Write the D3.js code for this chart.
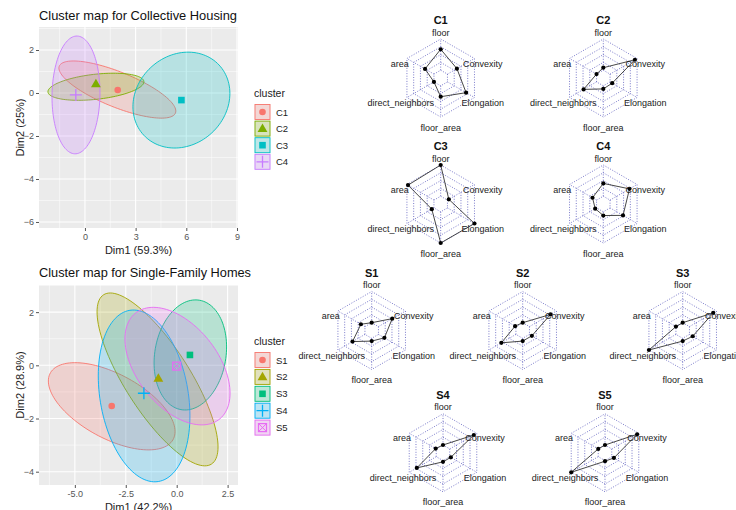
<!DOCTYPE html>
<html><head><meta charset="utf-8">
<script src="https://cdn.jsdelivr.net/npm/d3@7"></script>
<style>body{margin:0;background:#fff} text{font-family:"Liberation Sans",Arial,sans-serif}</style>
</head><body><svg id="chart" width="736" height="510"></svg>
<script>
// ---------------- data ----------------
const housingTitle = "Cluster map for Collective Housing";
const housingClusters = ["C1","C2","C3","C4"];
const housingColors = ["#F8766D","#7CAE00","#00BFC4","#C77CFF"];
const housingShapes = ["circle","triangle","square","plus"];
const housingCenterX = [1.94, 0.65, 5.71, -0.54];
const housingCenterY = [0.14, 0.42, -0.33, -0.09];
// ellipse: [centre x, centre y, half-width, half-height, y offset of right-most point]
const housingEllipses = [[1.92,0.16,3.46,1.33,-1.0],[0.65,0.29,2.84,0.63,0.23],[5.71,-0.33,2.87,2.23,0.31],[-0.53,-0.09,1.42,2.74,0.1]];
const housingXTicks = [0,3,6,9];
const housingXTickLabels = ["0","3","6","9"];
const housingYTicks = [-6,-4,-2,0,2];
const housingXLabel = "Dim1 (59.3%)";
const housingYLabel = "Dim2 (25%)";

const homesTitle = "Cluster map for Single-Family Homes";
const homesClusters = ["S1","S2","S3","S4","S5"];
const homesColors = ["#F8766D","#A3A500","#00BF7D","#00B0F6","#E76BF3"];
const homesShapes = ["circle","triangle","square","plus","boxcross"];
const homesCenterX = [-3.19, -0.90, 0.65, -1.61, 0.0];
const homesCenterY = [-1.53, -0.49, 0.39, -1.05, -0.03];
const homesEllipses = [[-3.19,-1.54,3.11,1.64,-0.95],[-0.94,-0.53,2.97,3.25,-2.54],[0.67,0.39,1.78,2.07,0.3],[-1.60,-1.15,2.25,3.23,-0.75],[0.04,-0.03,2.58,2.21,-1.02]];
const homesXTicks = [-5,-2.5,0,2.5];
const homesXTickLabels = ["-5.0","-2.5","0.0","2.5"];
const homesYTicks = [-4,-2,0,2];
const homesXLabel = "Dim1 (42.2%)";
const homesYLabel = "Dim2 (28.9%)";

const legendTitle = "cluster";

const radarAxes = ["floor","Convexity","Elongation","floor_area","direct_neighbors","area"];
const radarNames = ["C1","C2","C3","C4","S1","S2","S3","S4","S5"];
const radarC1 = [0.67,0.35,0.69,0.35,0.00,0.33];
const radarC2 = [0.08,0.92,0.08,0.10,0.48,0.00];
const radarC3 = [1.00,0.05,1.00,1.00,0.08,0.96];
const radarC4 = [0.41,0.72,0.48,0.12,0.05,0.15];
const radarS1 = [0.00,0.51,0.22,0.09,0.46,0.15];
const radarS2 = [0.00,0.78,0.09,0.09,0.54,0.03];
const radarS3 = [0.00,0.88,0.12,0.09,1.00,0.00];
const radarS4 = [0.00,0.89,0.04,0.04,0.72,0.02];
const radarS5 = [0.00,0.94,0.08,0.02,1.00,0.00];
const radarValues = [radarC1,radarC2,radarC3,radarC4,radarS1,radarS2,radarS3,radarS4,radarS5];

// ---------------- layout ----------------
const svg = d3.select("#chart");
svg.append("rect").attr("width",736).attr("height",510).attr("fill","#fff");

function drawShape(g, shape, x, y, color){
  if(shape==="circle"){
    g.append("circle").attr("cx",x).attr("cy",y).attr("r",3.3).attr("fill",color);
  } else if(shape==="triangle"){
    g.append("path").attr("d",d3.symbol(d3.symbolTriangle,42)()).attr("transform",`translate(${x},${y+0.5})`).attr("fill",color);
  } else if(shape==="square"){
    g.append("rect").attr("x",x-3.3).attr("y",y-3.3).attr("width",6.6).attr("height",6.6).attr("fill",color);
  } else if(shape==="plus"){
    g.append("path").attr("d",`M${x-6},${y}H${x+6}M${x},${y-6}V${y+6}`).attr("stroke",color).attr("stroke-width",1.3).attr("fill","none");
  } else if(shape==="boxcross"){
    g.append("rect").attr("x",x-4).attr("y",y-4).attr("width",8).attr("height",8).attr("fill","none").attr("stroke",color).attr("stroke-width",1.2);
    g.append("path").attr("d",`M${x-4},${y-4}L${x+4},${y+4}M${x+4},${y-4}L${x-4},${y+4}`).attr("stroke",color).attr("stroke-width",1);
  }
}

function clusterPanel(cfg){
  const g = svg.append("g");
  const x = d3.scaleLinear().domain(cfg.xDomain).range([cfg.left, cfg.right]);
  const y = d3.scaleLinear().domain(cfg.yDomain).range([cfg.bottom, cfg.top]);
  g.append("text").attr("x",cfg.left).attr("y",cfg.titleY).attr("font-size",13.5).attr("fill","#111")
    .attr("textLength",cfg.titleW).attr("lengthAdjust","spacingAndGlyphs").text(cfg.title);
  g.append("rect").attr("x",cfg.left).attr("y",cfg.top).attr("width",cfg.right-cfg.left).attr("height",cfg.bottom-cfg.top).attr("fill","#EBEBEB");
  // minor grid
  const xs = cfg.xTicks, ys = cfg.yTicks;
  const dx = xs[1]-xs[0], dy = ys[1]-ys[0];
  const xMinor = d3.range(xs[0]-dx/2, cfg.xDomain[1], dx).filter(v=>v>cfg.xDomain[0]&&v<cfg.xDomain[1]);
  const yMinor = d3.range(ys[0]-dy/2, cfg.yDomain[1], dy).filter(v=>v>cfg.yDomain[0]&&v<cfg.yDomain[1]);
  g.selectAll(".xm").data(xMinor).join("line").attr("x1",d=>x(d)).attr("x2",d=>x(d)).attr("y1",cfg.top).attr("y2",cfg.bottom).attr("stroke","#fff").attr("stroke-width",0.5);
  g.selectAll(".ym").data(yMinor).join("line").attr("y1",d=>y(d)).attr("y2",d=>y(d)).attr("x1",cfg.left).attr("x2",cfg.right).attr("stroke","#fff").attr("stroke-width",0.5);
  g.selectAll(".xM").data(xs).join("line").attr("x1",d=>x(d)).attr("x2",d=>x(d)).attr("y1",cfg.top).attr("y2",cfg.bottom).attr("stroke","#fff").attr("stroke-width",1.1);
  g.selectAll(".yM").data(ys).join("line").attr("y1",d=>y(d)).attr("y2",d=>y(d)).attr("x1",cfg.left).attr("x2",cfg.right).attr("stroke","#fff").attr("stroke-width",1.1);
  // axes
  const xa = g.append("g").attr("transform",`translate(0,${cfg.bottom})`)
    .call(d3.axisBottom(x).tickValues(xs).tickFormat((d,i)=>cfg.xTickLabels[i]).tickSize(3).tickPadding(3));
  const ya = g.append("g").attr("transform",`translate(${cfg.left},0)`)
    .call(d3.axisLeft(y).tickValues(ys).tickFormat(d3.format("d")).tickSize(3).tickPadding(2));
  [xa,ya].forEach(a=>{a.select(".domain").remove(); a.selectAll("line").attr("stroke","#555"); a.selectAll("text").attr("fill","#555").attr("font-size",9).attr("font-family","Liberation Sans, Arial");});
  g.append("text").attr("x",(cfg.left+cfg.right)/2).attr("y",cfg.xLabelY).attr("text-anchor","middle").attr("font-size",11).attr("fill","#222").text(cfg.xLabel);
  g.append("text").attr("transform",`translate(24,${(cfg.top+cfg.bottom)/2}) rotate(-90)`).attr("text-anchor","middle").attr("font-size",11).attr("fill","#222").text(cfg.yLabel);
  // ellipses
  const clip = "clip"+cfg.id;
  svg.append("clipPath").attr("id",clip).append("rect").attr("x",cfg.left).attr("y",cfg.top).attr("width",cfg.right-cfg.left).attr("height",cfg.bottom-cfg.top);
  const eg = g.append("g").attr("clip-path",`url(#${clip})`);
  const ts = d3.range(0, 2*Math.PI, Math.PI/60);
  const line = d3.line().x(p=>x(p[0])).y(p=>y(p[1])).curve(d3.curveLinearClosed);
  cfg.ellipses.forEach((e,i)=>{
    const [cx,cy,hx,hy,ry] = e;
    const k = Math.sqrt(hy*hy-ry*ry);
    const pts = ts.map(t=>[cx+hx*Math.cos(t), cy+ry*Math.cos(t)+k*Math.sin(t)]);
    eg.append("path").attr("d",line(pts)).attr("fill",cfg.colors[i]).attr("fill-opacity",0.22).attr("stroke",cfg.colors[i]).attr("stroke-width",0.9);
  });
  cfg.clusters.forEach((c,i)=>{
    drawShape(eg, cfg.shapes[i], x(cfg.cx[i]), y(cfg.cy[i]), cfg.colors[i]);
  });
  // legend
  const lg = g.append("g");
  lg.append("text").attr("x",cfg.legX).attr("y",cfg.legY).attr("font-size",10.5).attr("fill","#222").text(legendTitle);
  cfg.clusters.forEach((c,i)=>{
    const ky = cfg.legY+7+i*cfg.legStep;
    lg.append("rect").attr("x",cfg.legX+0.5).attr("y",ky).attr("width",16).attr("height",16).attr("fill","#F2F2F2");
    lg.append("rect").attr("x",cfg.legX+1).attr("y",ky+0.5).attr("width",15).attr("height",15).attr("fill",cfg.colors[i]).attr("fill-opacity",0.22).attr("stroke",cfg.colors[i]).attr("stroke-width",0.9);
    drawShape(lg, cfg.shapes[i], cfg.legX+8.5, ky+8, cfg.colors[i]);
    lg.append("text").attr("x",cfg.legX+22).attr("y",ky+11.5).attr("font-size",9.5).attr("fill","#222").text(c);
  });
}

clusterPanel({id:"a", title:housingTitle, titleY:20, titleW:198, left:39, right:238, top:27, bottom:228,
  xDomain:[-2.72,9.06], yDomain:[-6.28,3.07], xTicks:housingXTicks, xTickLabels:housingXTickLabels, yTicks:housingYTicks,
  xLabel:housingXLabel, yLabel:housingYLabel, xLabelY:253.5, clusters:housingClusters, colors:housingColors, shapes:housingShapes,
  cx:housingCenterX, cy:housingCenterY, ellipses:housingEllipses, legX:254, legY:97, legStep:16.6});
clusterPanel({id:"b", title:homesTitle, titleY:277, titleW:212, left:39, right:238, top:285, bottom:485,
  xDomain:[-6.76,3.01], yDomain:[-4.5,3.02], xTicks:homesXTicks, xTickLabels:homesXTickLabels, yTicks:homesYTicks,
  xLabel:homesXLabel, yLabel:homesYLabel, xLabelY:511, clusters:homesClusters, colors:homesColors, shapes:homesShapes,
  cx:homesCenterX, cy:homesCenterY, ellipses:homesEllipses, legX:254, legY:345, legStep:16.9});

// ---------------- radar charts ----------------
const radarCX = [440.7,603.3,440.7,603.3,371.7,522.7,682.7,443,605];
const radarCY = [78,78,204,204,330.5,330.5,330.5,452.8,452.8];
const R = 39;
const rScale = d3.scaleLinear().domain([0,1]).range([R*0.2, R]);
const angle = i => (-90 + 60*i)*Math.PI/180;
const labelOff = [[0,-42.5,"middle"],[42,-11.5,"middle"],[42,28,"middle"],[0,52.5,"middle"],[-40,28,"middle"],[-41,-11.5,"middle"]];
radarNames.forEach((name,k)=>{
  const cx = radarCX[k], cy = radarCY[k];
  const g = svg.append("g").attr("transform",`translate(${cx},${cy})`);
  for(let lv=1; lv<=5; lv++){
    const rr = R*lv/5;
    const pts = radarAxes.map((a,i)=>[rr*Math.cos(angle(i)), rr*Math.sin(angle(i))]);
    g.append("path").attr("d",d3.line().curve(d3.curveLinearClosed)(pts)).attr("fill","none")
      .attr("stroke","#3A3AB0").attr("stroke-width",0.8).attr("stroke-dasharray","1,1.6").attr("stroke-opacity",0.85);
  }
  radarAxes.forEach((a,i)=>{
    g.append("line").attr("x1",R*0.2*Math.cos(angle(i))).attr("y1",R*0.2*Math.sin(angle(i)))
      .attr("x2",R*Math.cos(angle(i))).attr("y2",R*Math.sin(angle(i)))
      .attr("stroke","#3A3AB0").attr("stroke-width",0.8).attr("stroke-dasharray","1,1.6").attr("stroke-opacity",0.85);
  });
  const vals = radarValues[k];
  const pts = vals.map((v,i)=>[rScale(v)*Math.cos(angle(i)), rScale(v)*Math.sin(angle(i))]);
  g.append("path").attr("d",d3.line().curve(d3.curveLinearClosed)(pts)).attr("fill","none").attr("stroke","#333").attr("stroke-width",0.9);
  g.selectAll(".pt").data(pts).join("circle").attr("cx",p=>p[0]).attr("cy",p=>p[1]).attr("r",2.1).attr("fill","#000");
  radarAxes.forEach((a,i)=>{
    g.append("text").attr("x",labelOff[i][0]).attr("y",labelOff[i][1]).attr("text-anchor",labelOff[i][2])
      .attr("font-size",9).attr("fill","#222").text(a);
  });
  g.append("text").attr("x",0).attr("y",-54).attr("text-anchor","middle").attr("font-size",11).attr("font-weight","bold").attr("fill","#111").text(name);
});
</script></body></html>
